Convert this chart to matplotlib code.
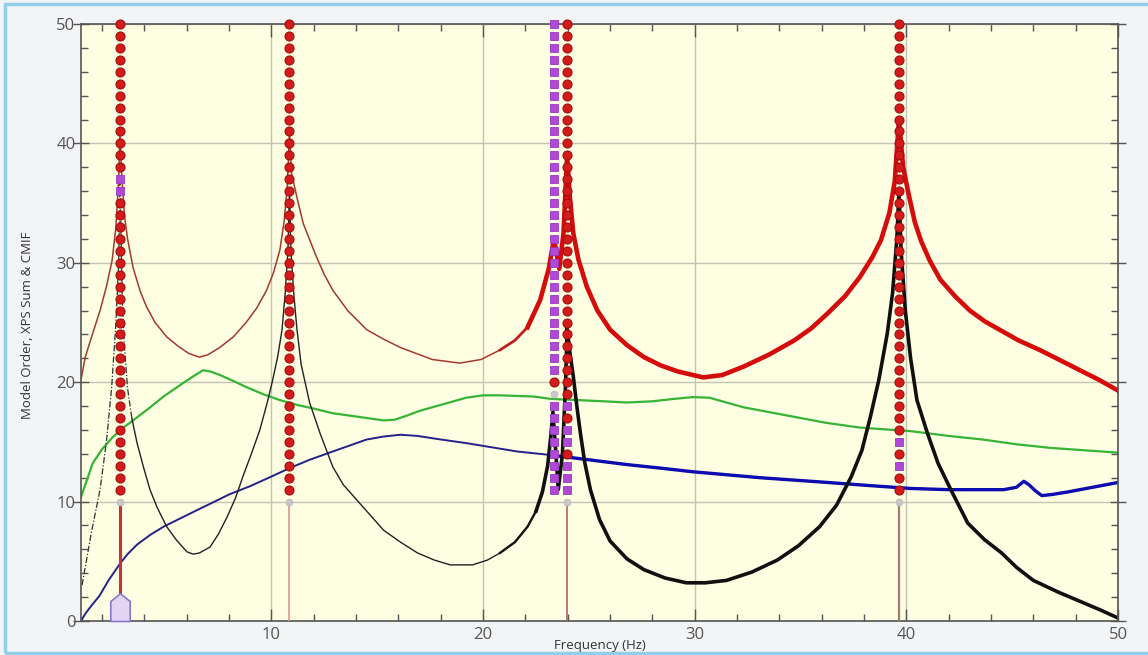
import numpy as np
import matplotlib
matplotlib.use("Agg")
import matplotlib.pyplot as plt
from matplotlib.patches import Rectangle
from matplotlib.ticker import MultipleLocator

plt.rcParams["font.family"] = ["Open Sans", "DejaVu Sans"]

# XPS sum (red / brown curve)
xps_freq = [1.0, 1.2, 1.5, 1.9, 2.2, 2.47, 2.65, 2.78, 2.84, 2.92, 3.05, 3.2, 3.46,
            3.8, 4.1, 4.5, 5.05, 5.6, 6.1, 6.6, 7.0, 7.55, 8.2, 8.8, 9.3, 9.77,
            10.1, 10.4, 10.6, 10.75, 10.85, 10.95, 11.2, 11.5, 12.1, 12.5, 12.9,
            13.6, 14.5, 15.3, 16.1, 17.6, 18.9, 19.9, 20.8, 21.5, 22.1, 22.7,
            23.1, 23.35, 23.6, 23.8, 23.97, 24.1, 24.26, 24.5, 24.9, 25.4, 26.0,
            26.8, 27.6, 28.4, 29.2, 30.4, 31.3, 32.3, 33.5, 34.7, 35.5, 36.3,
            37.1, 37.8, 38.4, 38.8, 39.2, 39.45, 39.65, 39.85, 40.1, 40.4, 40.7,
            41.1, 41.6, 42.3, 43.0, 43.7, 44.4, 45.3, 46.3, 47.2, 48.2, 49.1, 50.0]
xps_val = [20.2, 22.1, 23.8, 26.0, 28.0, 30.2, 33.0, 37.0, 41.0, 37.5, 34.0, 32.0, 29.6,
           27.6, 26.3, 25.0, 23.8, 23.0, 22.4, 22.1, 22.3, 22.9, 23.8, 25.0, 26.2, 27.7,
           29.2, 31.1, 33.5, 36.5, 41.0, 37.5, 35.5, 33.3, 30.6, 29.0, 27.7,
           26.0, 24.4, 23.6, 22.9, 21.9, 21.6, 21.9, 22.7, 23.5, 24.6, 26.9,
           29.5, 32.0, 29.5, 32.5, 39.0, 35.5, 32.5, 30.3, 28.0, 26.0, 24.4,
           23.1, 22.1, 21.4, 20.9, 20.4, 20.6, 21.3, 22.3, 23.5, 24.5, 25.8,
           27.2, 28.8, 30.5, 31.9, 34.2, 36.8, 42.0, 38.0, 35.8, 33.4, 31.8,
           30.2, 28.6, 27.2, 26.0, 25.1, 24.4, 23.5, 22.7, 21.9, 21.0, 20.2, 19.3]

# CMIF (black curve)
cmif_freq = [1.05, 1.5, 1.9, 2.2, 2.45, 2.65, 2.78, 2.84, 2.95, 3.05, 3.2, 3.4, 3.65,
             3.95, 4.26, 4.6, 5.05, 5.5, 6.0, 6.3, 6.6, 7.1, 7.5, 7.9, 8.3, 8.65,
             9.05, 9.45, 9.8, 10.06, 10.3, 10.5, 10.65, 10.78, 10.85, 10.92, 11.05,
             11.2, 11.4, 11.8, 12.3, 12.9, 13.4, 14.05, 14.7, 15.3, 16.1, 16.9, 17.7,
             18.45, 19.5, 20.2, 20.8, 21.5, 22.1, 22.5, 22.8, 23.05, 23.2, 23.3,
             23.4, 23.55, 23.75, 23.9, 23.97, 24.1, 24.26, 24.45, 24.6, 24.8, 25.07,
             25.5, 26.0, 26.8, 27.6, 28.6, 29.6, 30.5, 31.5, 32.7, 33.9, 34.9, 35.9,
             36.7, 37.4, 37.9, 38.3, 38.7, 39.1, 39.35, 39.55, 39.65, 39.75, 39.95,
             40.2, 40.5, 41.0, 41.5, 42.1, 42.9, 43.7, 44.5, 45.2, 46.0, 47.2, 48.4,
             49.2, 50.0]
cmif_val = [3.0, 7.5, 11.0, 15.0, 19.6, 25.0, 30.0, 37.0, 27.0, 23.0, 19.5, 17.0, 14.9,
            12.9, 11.0, 9.5, 7.9, 6.8, 5.8, 5.6, 5.7, 6.2, 7.3, 8.7, 10.3, 12.1,
            14.0, 16.0, 18.3, 20.2, 22.2, 24.4, 27.5, 31.0, 36.0, 31.0, 27.5,
            24.5, 21.5, 18.3, 15.7, 12.9, 11.4, 10.1, 8.8, 7.6, 6.6, 5.7, 5.1,
            4.7, 4.7, 5.1, 5.7, 6.6, 7.9, 9.2, 10.8, 13.0, 15.5, 17.5,
            15.0, 11.0, 14.0, 20.0, 24.5, 22.5, 20.5, 17.7, 15.7, 13.3, 11.0,
            8.5, 6.7, 5.2, 4.3, 3.6, 3.2, 3.2, 3.4, 4.1, 5.1, 6.3, 7.9,
            9.7, 12.1, 14.3, 17.1, 20.2, 24.1, 27.5, 32.0, 36.0, 31.0, 26.0,
            22.0, 18.5, 15.7, 13.2, 11.0, 8.2, 6.8, 5.7, 4.5, 3.4, 2.4, 1.5,
            0.9, 0.25]

# green curve
green_freq = [1.0, 1.3, 1.55, 2.0, 2.5, 3.0, 3.46, 4.2, 4.9, 5.8, 6.4, 6.77, 7.1,
              7.57, 8.2, 8.8, 9.6, 10.4, 11.2, 11.97, 12.9, 14.1, 15.3, 15.8, 16.4,
              17.0, 17.6, 18.4, 19.2, 20.0, 20.8, 21.6, 22.4, 23.2, 24.5, 25.7,
              26.8, 28.0, 29.0, 29.9, 30.7, 31.5, 32.3, 33.5, 34.7, 36.2, 37.8,
              40.2, 42.0, 43.6, 45.2, 46.8, 48.4, 50.0]
green_val = [10.4, 11.9, 13.2, 14.4, 15.4, 16.2, 16.8, 17.8, 18.8, 19.9, 20.6, 21.0, 20.9,
             20.6, 20.1, 19.6, 19.0, 18.5, 18.1, 17.8, 17.4, 17.1, 16.8, 16.85, 17.2,
             17.6, 17.9, 18.3, 18.7, 18.9, 18.9, 18.85, 18.8, 18.6, 18.5, 18.4,
             18.3, 18.4, 18.6, 18.75, 18.7, 18.3, 17.9, 17.5, 17.1, 16.6, 16.2,
             15.9, 15.5, 15.2, 14.8, 14.5, 14.3, 14.1]

# blue curve
blue_freq = [1.0, 1.2, 1.5, 1.87, 2.3, 2.84, 3.2, 3.65, 4.26, 4.9, 5.7, 6.5, 7.2,
             8.0, 9.0, 10.0, 10.85, 11.8, 12.9, 13.7, 14.5, 15.3, 16.1, 16.9, 18.0,
             19.2, 20.4, 21.6, 23.2, 25.0, 26.8, 28.4, 29.9, 31.5, 33.1, 34.7, 36.3,
             38.2, 40.2, 42.0, 43.6, 44.6, 45.2, 45.55, 45.8, 46.1, 46.4, 46.9, 47.6,
             48.8, 50.0]
blue_val = [0.0, 0.6, 1.3, 2.1, 3.4, 4.8, 5.6, 6.4, 7.2, 7.9, 8.6, 9.3, 9.9,
            10.6, 11.3, 12.1, 12.8, 13.5, 14.2, 14.7, 15.2, 15.45, 15.6, 15.5, 15.2,
            14.9, 14.55, 14.2, 13.9, 13.5, 13.1, 12.8, 12.5, 12.25, 12.0, 11.8, 11.6,
            11.35, 11.1, 11.0, 11.0, 11.0, 11.2, 11.7, 11.4, 10.9, 10.5, 10.6, 10.8,
            11.2, 11.6]

# stabilization columns
stab_freq = [2.84, 10.85, 23.35, 23.97, 39.65]
model_orders = list(range(10, 51))
stab_purple = [[36, 37], [], list(range(11, 19)) + list(range(21, 51)),
               [11, 12, 13, 15, 16, 18], [13, 15]]
stab_gray = [[10], [10], [19], [10], [10]]
stab_hidden = [[], [], [10], [], []]

stem_freq = [2.84, 10.85, 23.97, 39.65]
stem_color = ["#c83232", "#e89090", "#b86060", "#a07a6a"]
stem_width = [2.2, 1.2, 1.2, 1.6]
peak_pick = [2.84]

fig = plt.figure(figsize=(11.48, 6.55), dpi=100, facecolor="#f3f4f6")
ax = fig.add_axes([81 / 1148, 34 / 655, 1037 / 1148, 597 / 655])
ax.set_facecolor("#fefee2")

fig.patches.append(Rectangle((5 / 1148, 2 / 655), 1160 / 1148, 649 / 655,
                             transform=fig.transFigure, fill=False,
                             edgecolor="#92d0ea", lw=2.5))

xf = np.array(xps_freq); xv = np.array(xps_val)
cf = np.array(cmif_freq); cv = np.array(cmif_val)
bf = np.array(blue_freq); bv = np.array(blue_val)

# curves
ax.plot(bf, bv, color="#22228a", lw=1.4, zorder=2)
m = bf >= 22
ax.plot(bf[m], bv[m], color="#0c0cb0", lw=2.4, zorder=2)
ax.plot(green_freq, green_val, color="#36b436", lw=1.6, zorder=2)

# black: dashed near the first peak, solid elsewhere, thicker (noisy) at higher freq
m = cf <= 3.4
ax.plot(cf[m], cv[m], color="#303030", lw=0.9, ls=(0, (5, 1.5, 1, 1.5)), zorder=2)
m = cf >= 3.4
ax.plot(cf[m], cv[m], color="#222222", lw=1.0, zorder=2)
m = (cf >= 20.8) & (cf <= 22.6)
ax.plot(cf[m], cv[m], color="#151515", lw=1.7, zorder=2)
m = cf >= 22.5
ax.plot(cf[m], cv[m], color="#101010", lw=2.6, zorder=2)

ax.plot(xf, xv, color="#a23a30", lw=1.1, zorder=3)
m = (xf >= 20.8) & (xf <= 22.7)
ax.plot(xf[m], xv[m], color="#c02020", lw=2.0, zorder=3)
m = xf >= 22.1
ax.plot(xf[m], xv[m], color="#d40c0c", lw=3.3, zorder=3)

# stems below first stable order
for f, c, w in zip(stem_freq, stem_color, stem_width):
    ax.vlines(f, 0, 10, color=c, lw=w, zorder=4)

# stabilization markers
for f, purple, gray, hidden in zip(stab_freq, stab_purple, stab_gray, stab_hidden):
    red = [o for o in model_orders if o not in purple and o not in gray and o not in hidden]
    ax.plot([f] * len(red), red, ls="none", marker="o", ms=6.5,
            mfc="#d41a1a", mec="#a01010", mew=0.8, zorder=6, clip_on=False)
    ax.plot([f] * len(purple), purple, ls="none", marker="s", ms=5.5,
            mfc="#b048d8", mec="#9a38c0", mew=0.6, zorder=6, clip_on=False)
    ax.plot([f] * len(gray), gray, ls="none", marker="o", ms=5,
            mfc="#c8c8c8", mec="#b8b8b8", mew=0.5, zorder=6)

# picked peak marker
house = [(-0.35, 0), (0.35, 0), (0.35, 0.72), (0, 1), (-0.35, 0.72), (-0.35, 0)]
ax.plot(peak_pick, [0] * len(peak_pick), ls="none", marker=house, ms=40,
        mfc="#e4d4f4", mec="#8878c8", mew=1.2, zorder=7, clip_on=False)

ax.set_xlim(1, 50)
ax.set_ylim(0, 50)
ax.xaxis.set_major_locator(MultipleLocator(10))
ax.xaxis.set_minor_locator(MultipleLocator(2))
ax.yaxis.set_major_locator(MultipleLocator(10))
ax.yaxis.set_minor_locator(MultipleLocator(2))
ax.grid(True, which="major", color="#c4c4b4", lw=1.0, zorder=1)
ax.set_axisbelow(True)

ax.tick_params(which="both", direction="in", top=True, right=True,
               colors="#555555", labelcolor="#555555", labelsize=12)
ax.tick_params(which="major", length=9, width=1)
ax.tick_params(which="minor", length=5, width=1)
ax.tick_params(axis="y", which="major", direction="inout", length=12)
ax.tick_params(axis="x", pad=4)
ax.tick_params(axis="y", pad=-2)
for s in ax.spines.values():
    s.set_color("#555555")
    s.set_linewidth(1.2)

fig.text(600 / 1148, 1 - 646 / 655, "Frequency (Hz)", fontsize=9.5,
         color="#333333", ha="center", va="center")
fig.text(28 / 1148, 1 - 325 / 655, "Model Order, XPS Sum & CMIF", fontsize=9.5,
         color="#333333", ha="center", va="center", rotation=90)

fig.savefig("out.png", dpi=100, facecolor=fig.get_facecolor())
